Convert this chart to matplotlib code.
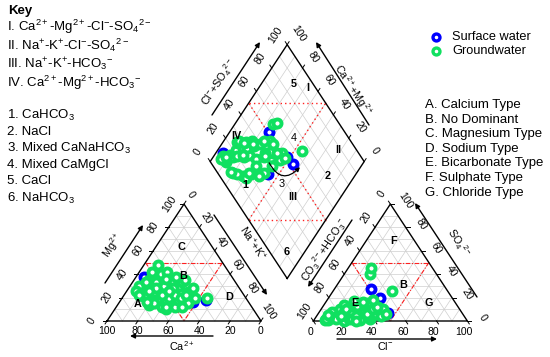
import numpy as np
import matplotlib
matplotlib.use('Agg')
import matplotlib.pyplot as plt
from matplotlib.patches import FancyArrowPatch

plt.rcParams['font.family'] = ['Liberation Sans', 'DejaVu Sans']
plt.rcParams['mathtext.fontset'] = 'custom'
plt.rcParams['mathtext.rm'] = 'Liberation Sans'
plt.rcParams['mathtext.it'] = 'Liberation Sans:italic'
plt.rcParams['mathtext.bf'] = 'Liberation Sans:bold'

# ---------------- data (percent of meq) ----------------
gw_ca = [60, 55, 50, 65, 66, 66, 66, 62, 58, 52, 47, 45, 40, 42, 48, 55, 58, 50, 45, 40,
         38, 35, 35, 40, 45, 33, 30, 57, 63, 64, 58, 52, 48, 43, 50, 53, 45, 62, 57, 40,
         36, 43, 25, 68, 68, 66, 54, 47, 42, 38, 60, 50, 56, 44, 32]
gw_mg = [30, 35, 38, 25, 24, 21, 14, 18, 22, 28, 33, 40, 42, 36, 25, 15, 12, 12, 18, 25,
         30, 33, 25, 15, 12, 20, 28, 25, 22, 30, 33, 33, 30, 28, 20, 22, 22, 15, 10, 35,
         38, 48, 20, 26, 22, 16, 28, 26, 20, 22, 26, 42, 12, 36, 35]
gw_na = [10, 10, 12, 10, 10, 13, 20, 20, 20, 20, 20, 15, 18, 22, 27, 30, 30, 38, 37, 35,
         32, 32, 40, 45, 43, 47, 42, 18, 15, 6, 9, 15, 22, 29, 30, 25, 33, 23, 33, 25,
         26, 9, 55, 6, 10, 18, 18, 27, 38, 40, 14, 8, 32, 20, 33]
gw_cl = [18, 8, 12, 20, 9, 14, 8, 16, 30, 15, 22, 13, 26, 24, 12, 14, 36, 36, 32, 28,
         20, 25, 28, 42, 40, 44, 36, 20, 24, 8, 16, 20, 22, 30, 16, 24, 34, 8, 32, 17,
         34, 8, 38, 7, 22, 7, 22, 15, 24, 35, 26, 7, 28, 18, 30]
gw_so4 = [8, 8, 10, 6, 1, 3, 2, 8, 6, 12, 6, 14, 10, 4, 3, 2, 12, 5, 12, 15,
          1, 14, 2, 4, 10, 6, 2, 10, 8, 3, 10, 0, 13, 1, 4, 16, 3, 4, 6, 40,
          10, 2, 26, 1, 6, 2, 2, 45, 2, 12, 4, 5, 0, 17, 18]

sw_ca = [57, 60, 44, 36, 27, 42]
sw_mg = [38, 30, 30, 16, 18, 15]
sw_na = [5, 10, 26, 48, 55, 43]
sw_cl = [9, 10, 24, 45, 33, 26]
sw_so4 = [3, 3, 27, 7, 20, 6]

series = [("Surface water", sw_ca, sw_mg, sw_na, sw_cl, sw_so4, "#0000ff"),
          ("Groundwater", gw_ca, gw_mg, gw_na, gw_cl, gw_so4, "#10e060")]

key_roman = [r"I. Ca$^{2+}$-Mg$^{2+}$-Cl$^{-}$-SO$_4$$^{2-}$",
             r"II. Na$^{+}$-K$^{+}$-Cl$^{-}$-SO$_4$$^{2-}$",
             r"III. Na$^{+}$-K$^{+}$-HCO$_3$$^{-}$",
             r"IV. Ca$^{2+}$-Mg$^{2+}$-HCO$_3$$^{-}$"]
key_num = [r"1. CaHCO$_3$", "2. NaCl", r"3. Mixed CaNaHCO$_3$", "4. Mixed CaMgCl",
           "5. CaCl", r"6. NaHCO$_3$"]
key_type = ["A. Calcium Type", "B. No Dominant", "C. Magnesium Type", "D. Sodium Type",
            "E. Bicarbonate Type", "F. Sulphate Type", "G. Chloride Type"]
ticks = [0, 20, 40, 60, 80, 100]

# ---------------- geometry ----------------
H = np.sqrt(3) / 2
G = 0.34
AX0 = 1 + G           # left corner of anion triangle
BX, BY = 1 + G / 2, 0.315   # bottom corner of diamond
SX, SY, X0P, Y0P = 154.0, 135.0, 107.0, 321.0   # px scale
W, HH = 550, 357
ROT = np.degrees(np.arctan2(H * SY, 0.5 * SX))


def cat_xy(ca, mg, na):
    ca, mg, na = np.asarray(ca, float), np.asarray(mg, float), np.asarray(na, float)
    t = ca + mg + na
    return (na + mg / 2) / t, mg / t * H


def an_xy(cl, so4):
    cl, so4 = np.asarray(cl, float) / 100, np.asarray(so4, float) / 100
    return AX0 + cl + so4 / 2, so4 * H


def dia_xy(a, cm):
    a, cm = np.asarray(a, float), np.asarray(cm, float)
    return BX + 0.5 * (a - cm), BY + H * (a + cm)


def P(xp, yp):
    return (xp - X0P) / SX, (Y0P - yp) / SY


fig = plt.figure(figsize=(W / 100, HH / 100), dpi=100)
ax = fig.add_axes([0, 0, 1, 1])
ax.set_xlim(-X0P / SX, (W - X0P) / SX)
ax.set_ylim((Y0P - HH) / SY, Y0P / SY)
ax.axis('off')

GRID = dict(color='#cfcfcf', lw=0.5, zorder=1)
EDGE = dict(color='black', lw=1.0, zorder=3)


def line(p, q, **kw):
    ax.plot([p[0], q[0]], [p[1], q[1]], **kw)


# ---- cation triangle ----
for k in range(10, 100, 10):
    line(cat_xy(100 - k, k, 0), cat_xy(0, k, 100 - k), **GRID)
    line(cat_xy(k, 0, 100 - k), cat_xy(k, 100 - k, 0), **GRID)
    line(cat_xy(100 - k, 0, k), cat_xy(0, 100 - k, k), **GRID)
tri = [cat_xy(100, 0, 0), cat_xy(0, 0, 100), cat_xy(0, 100, 0), cat_xy(100, 0, 0)]
ax.plot([p[0] for p in tri], [p[1] for p in tri], **EDGE)
# ---- anion triangle ----
for k in range(10, 100, 10):
    line(an_xy(0, k), an_xy(100 - k, k), **GRID)
    line(an_xy(k, 0), an_xy(k, 100 - k), **GRID)
    line(an_xy(0, 100 - k), an_xy(100 - k, 0), **GRID)
tri = [an_xy(0, 0), an_xy(100, 0), an_xy(0, 100), an_xy(0, 0)]
ax.plot([p[0] for p in tri], [p[1] for p in tri], **EDGE)
# ---- diamond ----
for k in np.arange(0.1, 1.0, 0.1):
    line(dia_xy(k, 0), dia_xy(k, 1), **GRID)
    line(dia_xy(0, k), dia_xy(1, k), **GRID)
dm = [dia_xy(0, 0), dia_xy(1, 0), dia_xy(1, 1), dia_xy(0, 1), dia_xy(0, 0)]
ax.plot([p[0] for p in dm], [p[1] for p in dm], **EDGE)

# ---- ticks ----
TL = 0.025
d_left = np.array([-1.0, 0.0])
d_up_r = np.array([0.5, H])
d_dn_l = np.array([-0.5, -H])
d_up_l = np.array([-0.5, H])
d_dn_r = np.array([0.5, -H])
d_right = np.array([1.0, 0.0])
for v in ticks:
    for p, d in [(cat_xy(100 - v, v, 0), d_left), (cat_xy(0, 100 - v, v), d_up_r),
                 (cat_xy(v, 0, 100 - v), d_dn_l), (an_xy(v, 0), d_dn_r),
                 (an_xy(100 - v, v), d_right), (an_xy(0, 100 - v), d_up_l),
                 (dia_xy(v / 100, 1), d_up_l), (dia_xy(1, v / 100), d_up_r)]:
        p = np.array(p, float)
        line(p, p + d * TL, color='black', lw=0.7, zorder=3)

# ---- red classification lines ----
RD = dict(color='#ff2020', lw=0.8, ls=(0, (4, 1.5, 1, 1.5)), zorder=2)
for a, b in [((50, 50, 0), (0, 50, 50)), ((50, 50, 0), (50, 0, 50)), ((0, 50, 50), (50, 0, 50))]:
    line(cat_xy(*a), cat_xy(*b), **RD)
for a, b in [((0, 50), (50, 50)), ((0, 50), (50, 0)), ((50, 50), (50, 0))]:
    line(an_xy(*a), an_xy(*b), **RD)
RDD = dict(color='#ff2020', lw=1.0, ls=(0, (1, 2.2)), zorder=2)
for a, b in [((0.5, 0), (0.5, 1)), ((0, 0.5), (1, 0.5)), ((0.5, 1), (1, 0.5)), ((0, 0.5), (0.5, 0))]:
    line(dia_xy(*a), dia_xy(*b), **RDD)

# ---- tick labels ----
FS_T = 7.5


def lab(p, s, dxp, dyp, rot):
    ax.text(p[0] + dxp / SX, p[1] - dyp / SY, s, rotation=rot, ha='center', va='center',
            rotation_mode='anchor', fontsize=FS_T, zorder=4)


for v in ticks:
    lab(cat_xy(100 - v, v, 0), str(v), -15, 0, ROT)
    lab(cat_xy(0, 100 - v, v), str(v), 7, -9, -ROT)
    lab(cat_xy(v, 0, 100 - v), str(v), 0, 10, 0)
    lab(an_xy(v, 0), str(v), -3, 11, 0)
    lab(an_xy(100 - v, v), str(v), 15, -3, -ROT)
    lab(an_xy(0, 100 - v), str(v), -9, -10, ROT)
    lab(dia_xy(v / 100, 1), str(v), -12, -10, ROT)
    lab(dia_xy(1, v / 100), str(v), 11, -11, -ROT)

# ---- axis titles + arrows ----
FS_A = 7.8


def arrow(p0, p1):
    ax.annotate('', xy=P(*p1), xytext=P(*p0),
                arrowprops=dict(arrowstyle='-|>', color='black', lw=1.0,
                                mutation_scale=7, shrinkA=0, shrinkB=0), zorder=4)


def title(p, s, rot):
    x, y = P(*p)
    ax.text(x, y, s, rotation=rot, ha='center', va='center', rotation_mode='anchor',
            fontsize=FS_A, zorder=4)


arrow((105, 283), (143, 225)); title((113, 245), r"Mg$^{2+}$", ROT)
arrow((213, 336), (130, 336)); title((182, 346), r"Ca$^{2+}$", 0)
arrow((214, 215), (267, 295)); title((252, 243), r"Na$^{+}$+K$^{+}$", -ROT)
arrow((337, 339), (437, 339)); title((385, 346), r"Cl$^{-}$", 0)
arrow((477, 297), (415, 203)); title((458, 243), r"SO$_4$$^{2-}$", -ROT)
arrow((352, 220), (308, 287)); title((325, 250), r"CO$_3$$^{2-}$+HCO$_3$$^{-}$", ROT)
arrow((212, 115), (260, 42)); title((219, 82), r"Cl$^{-}$+SO$_4$$^{2-}$", ROT)
arrow((369, 125), (316, 42)); title((353, 90), r"Ca$^{2+}$+Mg$^{2+}$", -ROT)

# ---- region labels ----
FS_R = 7.8
for s, c in [("C", (20, 63, 17)), ("B", (31.5, 38.5, 30)), ("A", (73, 14.5, 12.5)), ("D", (10.5, 20.5, 69))]:
    x, y = cat_xy(*c)
    ax.text(x, y, s, ha='center', va='center', fontsize=FS_R, fontweight='bold', zorder=7)
for s, c in [("F", (18, 68)), ("B", (43, 31)), ("E", (19, 15.4)), ("G", (67, 15.4))]:
    x, y = an_xy(*c)
    ax.text(x, y, s, ha='center', va='center', fontsize=FS_R, fontweight='bold', zorder=7)
for s, c, w in [("5", (0.87, 0.79), 'bold'), ("I", (0.95, 0.68), 'bold'), ("IV", (0.28, 0.935), 'bold'),
                ("4", (0.64, 0.56), 'normal'), ("II", (0.88, 0.22), 'bold'), ("1", (0.13, 0.67), 'bold'),
                ("3", (0.37, 0.44), 'normal'), ("2", (0.70, 0.18), 'bold'), ("III", (0.386, 0.31), 'bold'),
                ("6", (0.113, 0.113), 'bold')]:
    x, y = dia_xy(*c)
    ax.text(x, y, s, ha='center', va='center', fontsize=FS_R, fontweight=w, zorder=7)

# ---- data points ----
MS, MEW = 5.8, 2.8
for name, ca, mg, na, cl, so4, col in series:
    x1, y1 = cat_xy(ca, mg, na)
    x2, y2 = an_xy(cl, so4)
    a = (np.asarray(cl, float) + np.asarray(so4, float)) / 100
    cm = (np.asarray(ca, float) + np.asarray(mg, float)) / (np.asarray(ca, float) + np.asarray(mg, float) + np.asarray(na, float))
    x3, y3 = dia_xy(a, cm)
    for xx, yy in [(x1, y1), (x2, y2), (x3, y3)]:
        ax.plot(xx, yy, 'o', ms=MS, mfc='white', mec=col, mew=MEW, ls='none', zorder=5)

# curved arrow in diamond
arc = FancyArrowPatch(dia_xy(0.38, 0.63), dia_xy(0.58, 0.39), connectionstyle="arc3,rad=0.75",
                      arrowstyle='-|>', mutation_scale=6, color='black', lw=0.9, zorder=6)
ax.add_patch(arc)

# ---- legend ----
for i, (name, *_, col) in enumerate(series):
    yp = 37 + 14 * i
    ax.plot(*P(436, yp), 'o', ms=5, mfc='white', mec=col, mew=2.4, zorder=5)
    ax.text(*P(452, yp), name, ha='left', va='center', fontsize=9.2)

# ---- key texts ----
FS_K = 9.5
fig.text(8 / W, 1 - 11 / HH, "Key", fontsize=FS_K, fontweight='bold', ha='left', va='center')
for i, s in enumerate(key_roman):
    fig.text(7 / W, 1 - (27 + 18.5 * i) / HH, s, fontsize=FS_K, ha='left', va='center')
for i, s in enumerate(key_num):
    fig.text(7 / W, 1 - (115 + 16.6 * i) / HH, s, fontsize=FS_K, ha='left', va='center')
for i, s in enumerate(key_type):
    fig.text(425 / W, 1 - (105 + 14.6 * i) / HH, s, fontsize=FS_K, ha='left', va='center')

fig.savefig('out.png', dpi=100)
